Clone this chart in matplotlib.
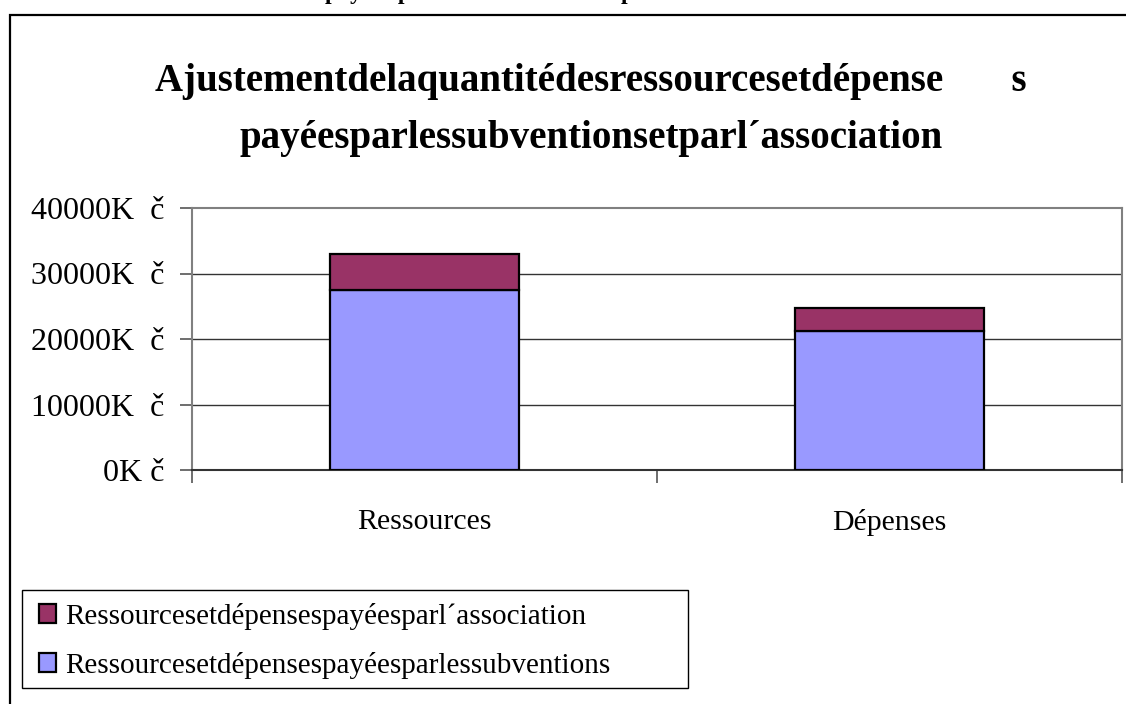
import matplotlib
matplotlib.use("Agg")
import matplotlib.pyplot as plt
from matplotlib.patches import Rectangle

# Data (Kč)
categories = ["Ressources", "Dépenses"]
subventions = [27500, 21250]
association = [5500, 3450]
series_labels = [
    "Ressourcesetdépensespayéesparl´association",
    "Ressourcesetdépensespayéesparlessubventions",
]
y_ticks = [0, 10000, 20000, 30000, 40000]
y_tick_labels = ["0K č", "10000K  č", "20000K  č", "30000K  č", "40000K  č"]

COL_SUB = "#9999FF"
COL_ASSO = "#993366"

plt.rcParams["font.family"] = ["Liberation Serif", "DejaVu Serif"]

W, H = 1126, 704
fig = plt.figure(figsize=(W / 100, H / 100), dpi=100)
ax = fig.add_axes([192 / W, 1 - 470 / H, (1122 - 192) / W, (470 - 208) / H])

x = list(range(len(categories)))
b1 = ax.bar(x, subventions, width=0.405, color=COL_SUB, edgecolor="black",
            linewidth=1.6, zorder=3)
b2 = ax.bar(x, association, width=0.405, bottom=subventions, color=COL_ASSO,
            edgecolor="black", linewidth=1.6, zorder=3)

ax.set_xlim(-0.5, 1.5)
ax.set_ylim(0, 40000)

# horizontal gridlines
for v in y_ticks[1:-1]:
    ax.axhline(v, color="#333333", lw=1.0, zorder=1)

ax.set_yticks(y_ticks)
ax.set_yticklabels(y_tick_labels, fontsize=23)
ax.tick_params(axis="y", direction="out", length=9, width=1.2, color="#555555", pad=11)

# category boundaries as major ticks, category names as minor ticks
ax.set_xticks([-0.5, 0.5, 1.5])
ax.set_xticklabels(["", "", ""])
ax.set_xticks(x, minor=True)
ax.set_xticklabels(categories, minor=True, fontsize=21.5)
ax.tick_params(axis="x", which="major", direction="out", length=9, width=1.2, color="#555555")
ax.tick_params(axis="x", which="minor", length=0, pad=28)

for side in ["top", "right", "left"]:
    ax.spines[side].set_color("#808080")
    ax.spines[side].set_linewidth(1.5)
ax.spines["bottom"].set_color("#333333")
ax.spines["bottom"].set_linewidth(1.5)

# title
fig.text(591 / W, 1 - 110 / H,
         "Ajustementdelaquantitédesressourcesetdépense       s\n"
         "payéesparlessubventionsetparl´association",
         ha="center", va="center", fontsize=28, fontweight="bold",
         linespacing=1.72)

# text of the page above the chart, cut by the top edge
fig.text(325 / W, 1 + 1 / H, "payées par les subventions et par l´association",
         ha="left", va="baseline", fontsize=17, fontweight="bold")

# outer chart frame
fig.patches.append(Rectangle((10 / W, -0.1), 2, 1 - 15 / H + 0.1,
                             transform=fig.transFigure, fill=False,
                             edgecolor="black", linewidth=1.6))

# legend box
fig.patches.append(Rectangle((22 / W, 1 - 688 / H), (688 - 22) / W, 98 / H,
                             transform=fig.transFigure, fill=False,
                             edgecolor="black", linewidth=1.0))
leg = fig.legend([b2, b1], series_labels, loc="upper left",
                 bbox_to_anchor=(33 / W, 1 - 597 / H), fontsize=21,
                 frameon=False, handlelength=0.6, handleheight=0.6,
                 handletextpad=0.3, labelspacing=0.75, borderpad=0.2,
                 borderaxespad=0)

fig.savefig("out.png", dpi=100)
